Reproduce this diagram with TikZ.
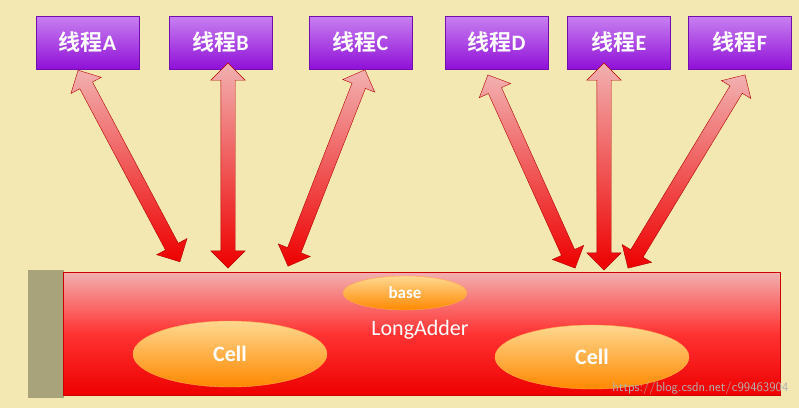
\documentclass[tikz,border=0pt]{standalone}
\usepackage{fontspec}
\setmainfont{Carlito}
\newfontfamily\cjk{Noto Sans CJK SC}[BoldFont={Noto Sans CJK SC Bold}]
\usetikzlibrary{shapes.arrows,shapes.geometric}
\definecolor{bg}{HTML}{F3E8B2}
\definecolor{purpA}{HTML}{C880F0}
\definecolor{purpB}{HTML}{9010D8}
\definecolor{grey}{HTML}{A9A37B}
\definecolor{redA}{HTML}{F2B0B0}
\definecolor{redB}{HTML}{EE0000}
\definecolor{orA}{HTML}{FFD890}
\definecolor{orB}{HTML}{FF8800}
\tikzset{
 thread/.style={draw=purpB!80!black, top color=purpA, bottom color=purpB, minimum width=103pt, minimum height=53pt, inner sep=0pt, text=white, font=\fontsize{22}{22}\selectfont\bfseries},
 link/.style={shape=double arrow, draw=red!70!black, top color=redA, bottom color=redB, inner xsep=0pt, inner ysep=7pt, double arrow head extend=10pt, text width=0pt, text height=0pt, text depth=0pt},
 cell/.style={ellipse, draw=orB!70!white, top color=orA, bottom color=orB, inner sep=0pt, text=white},
}
\begin{document}
\begin{tikzpicture}[x=1pt,y=-1pt]
\fill[bg] (0,0) rectangle (799,408);
\useasboundingbox (0,0) rectangle (799,408);
\fill[grey] (28,270) rectangle (64,398);
\shade[top color=redA, bottom color=redB, middle color=red!80] (63,272) rectangle (780,395);
\draw[red!80!black] (63,272) rectangle (780,395);
\node[thread] (A) at (87.5,42.5) {{\cjk\bfseries 线程}A};
\node[thread] (B) at (220.5,42.5) {{\cjk\bfseries 线程}B};
\node[thread] (C) at (360.5,42.5) {{\cjk\bfseries 线程}C};
\node[thread] (D) at (496.5,42.5) {{\cjk\bfseries 线程}D};
\node[thread] (E) at (619,42.5) {{\cjk\bfseries 线程}E};
\node[thread] (F) at (740,42.5) {{\cjk\bfseries 线程}F};
\node[link, minimum height=217pt, rotate=-62.0] (lA) at (129,166) {};
\node[link, minimum height=205pt, rotate=-90] (lB) at (228,165.5) {};
\node[link, minimum height=211pt, rotate=-111.4] (lC) at (326.5,168) {};
\node[link, minimum height=212pt, rotate=-65.7] (lD) at (531.5,171.5) {};
\node[link, minimum height=207pt, rotate=-90] (lE) at (604,166.5) {};
\node[link, minimum height=226pt, rotate=-121.2] (lF) at (686.5,171.5) {};
\node[cell, minimum width=124pt, minimum height=34pt, font=\fontsize{17}{17}\selectfont\bfseries] (base) at (405,293) {base};
\node[text=white, font=\fontsize{22}{22}\selectfont] (la) at (420,330) {LongAdder};
\node[cell, minimum width=194pt, minimum height=66pt, font=\fontsize{22}{22}\selectfont\bfseries] (c1) at (230,354) {Cell};
\node[cell, minimum width=194pt, minimum height=64pt, font=\fontsize{22}{22}\selectfont\bfseries] (c2) at (592,357) {Cell};
\node[text=gray!60!white, font=\fontsize{13}{13}\selectfont\sffamily, anchor=east] (wm) at (792,388) {https://blog.csdn.net/c99463904};
\end{tikzpicture}
\end{document}
